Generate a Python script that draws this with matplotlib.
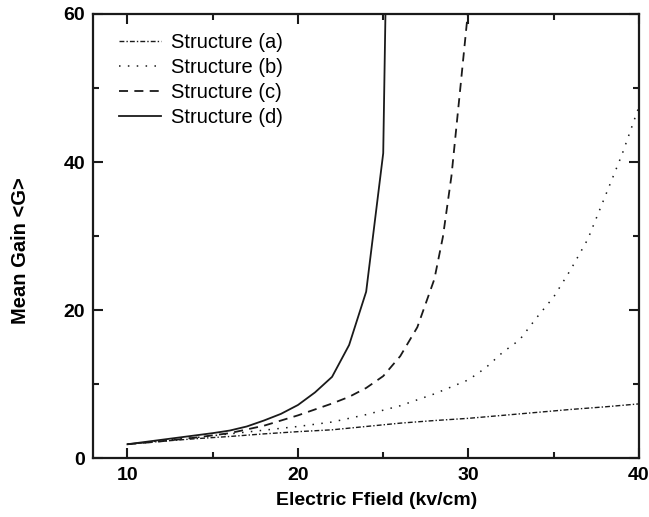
import matplotlib
matplotlib.use("Agg")
import matplotlib.pyplot as plt
from matplotlib.ticker import MultipleLocator

plt.rcParams['font.family'] = ['Liberation Sans', 'DejaVu Sans']

# field values (kV/cm) and mean gain
x_a = [10, 12, 14, 16, 18, 20, 22, 24, 26, 28, 30, 32, 34, 36, 38, 40]
g_a = [1.9, 2.3, 2.65, 2.95, 3.3, 3.6, 3.85, 4.3, 4.75, 5.1, 5.4, 5.8, 6.2, 6.6, 6.95, 7.35]

x_b = [10, 12, 14, 16, 18, 20, 22, 24, 26, 28, 30, 31, 32, 33, 34, 35, 36, 37, 38, 39, 40]
g_b = [1.9, 2.4, 2.8, 3.3, 3.8, 4.3, 4.9, 5.9, 7.1, 8.7, 10.6, 12.2, 14.3, 16.0, 19.0,
       21.8, 25.5, 29.6, 35.3, 41.0, 47.5]

x_c = [10, 12, 14, 16, 18, 20, 21, 22, 23, 24, 25, 26, 27, 28, 28.5, 29, 29.5, 30]
g_c = [1.9, 2.3, 2.8, 3.4, 4.4, 5.8, 6.6, 7.4, 8.3, 9.5, 11.1, 13.8, 17.7, 24.2, 29.9,
       38.1, 49.5, 61.0]

x_d = [10, 11, 12, 13, 14, 15, 16, 17, 18, 19, 20, 21, 22, 23, 24, 25, 26]
g_d = [1.9, 2.2, 2.5, 2.8, 3.1, 3.4, 3.75, 4.3, 5.1, 6.0, 7.2, 8.9, 11.0, 15.3, 22.5,
       41.2, 185.0]

labels = ['Structure (a)', 'Structure (b)', 'Structure (c)', 'Structure (d)']

fig = plt.figure(figsize=(6.49, 5.17), dpi=100)
ax = fig.add_axes([0.1438, 0.1135, 0.8408, 0.8595])

col = '#1a1a1a'
ax.plot(x_a, g_a, color=col, lw=1.0, dashes=[3.5, 1.5, 1, 1.5], label=labels[0])
ax.plot(x_b, g_b, color=col, lw=1.1, dashes=[1, 4.8], label=labels[1])
ax.plot(x_c, g_c, color=col, lw=1.3, dashes=[5, 3.5], label=labels[2])
ax.plot(x_d, g_d, color=col, lw=1.3, label=labels[3])

ax.set_xlim(8, 40)
ax.set_ylim(0, 60)
ax.xaxis.set_major_locator(MultipleLocator(10))
ax.xaxis.set_minor_locator(MultipleLocator(5))
ax.yaxis.set_major_locator(MultipleLocator(20))
ax.yaxis.set_minor_locator(MultipleLocator(10))
ax.tick_params(which='both', direction='in', top=True, right=True,
               width=1.5, color=col, labelsize=14, pad=6)
ax.tick_params(which='major', length=7)
ax.tick_params(which='minor', length=4)
for lbl in ax.get_xticklabels() + ax.get_yticklabels():
    lbl.set_fontweight('bold')
for sp in ax.spines.values():
    sp.set_linewidth(1.6)
    sp.set_color(col)

ax.set_xlabel('Electric Ffield (kv/cm)', fontsize=14, fontweight='bold',
              labelpad=6, x=0.519)
ax.set_ylabel('Mean Gain <G>', fontsize=14.5, fontweight='bold',
              labelpad=24, y=0.468)

ax.legend(loc='upper left', frameon=False, fontsize=14.5, handlelength=2.1,
          handletextpad=0.5, labelspacing=0.3, borderaxespad=0.0,
          bbox_to_anchor=(0.032, 0.976))

fig.savefig('out.png', dpi=100)
